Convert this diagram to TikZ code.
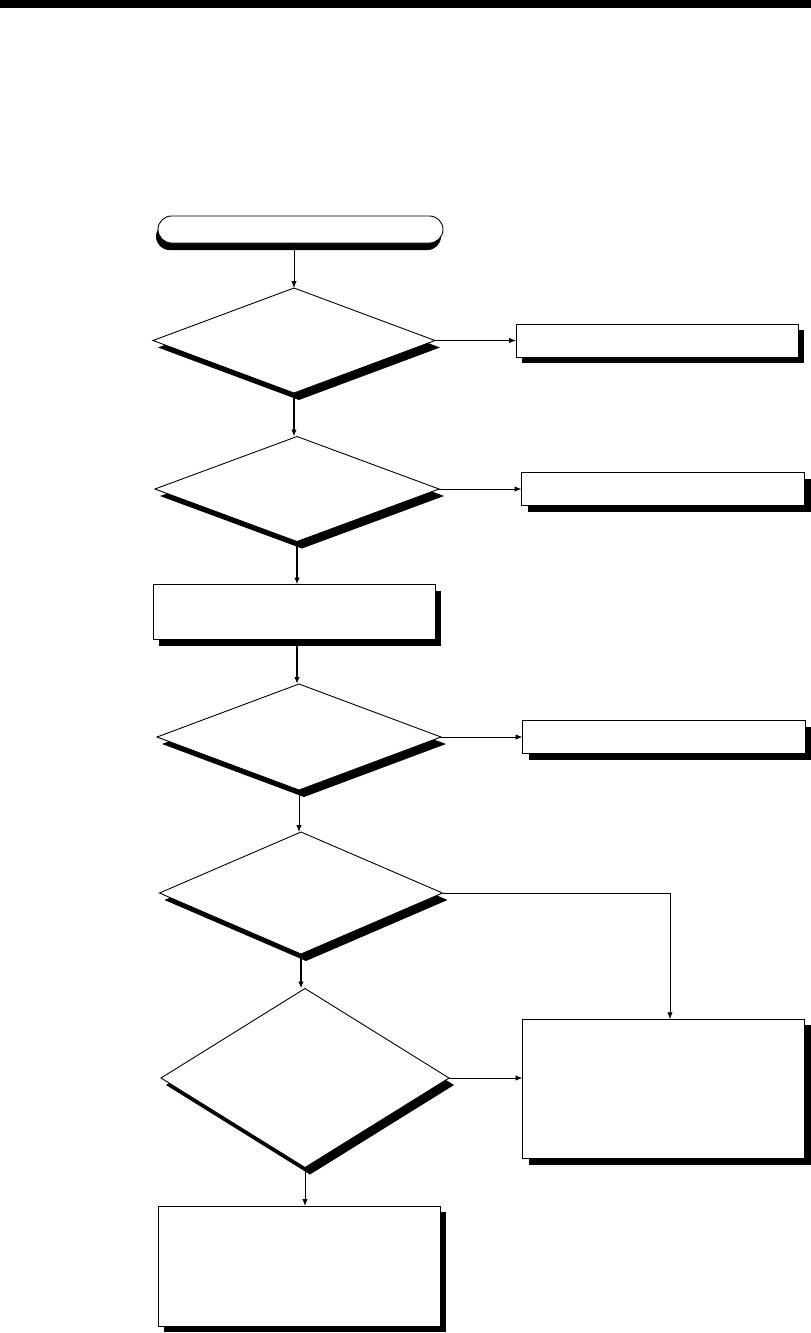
\documentclass[tikz,border=0pt]{standalone}
\usetikzlibrary{shapes.geometric,shadows,arrows.meta}
\begin{document}
\begin{tikzpicture}[x=1pt,y=-1pt,
  base/.style={draw=black, fill=white, line width=0.9pt, inner sep=0pt, outer sep=0pt},
  dshadow/.style={general shadow={fill=black, draw=none, shadow xshift=5pt, shadow yshift=-7pt}},
  bshadow/.style={general shadow={fill=black, draw=none, shadow xshift=6pt, shadow yshift=-6pt}},
  dec/.style={base, diamond, dshadow},
  box/.style={base, rectangle, bshadow},
  term/.style={base, rectangle, rounded corners=13.5pt,
    general shadow={fill=black, draw=none, shadow xshift=-2pt, shadow yshift=-7pt}},
  lnA/.style={line width=0.9pt, -{Latex[length=7pt,width=5.5pt]}},
  lnB/.style={line width=1.8pt, -{Latex[length=7pt,width=5.5pt]}},
  lnC/.style={line width=0.9pt}
]
\useasboundingbox (0,0) rectangle (811,1333);
\fill[black] (0,0) rectangle (811,8);

\node[term, minimum width=285pt, minimum height=27pt] (T) at (300.5,229.5) {};
\node[dec, minimum width=282pt, minimum height=105pt] (D1) at (294,340.5) {};
\node[box, minimum width=282pt, minimum height=33pt] (B1) at (657,340.5) {};
\node[dec, minimum width=284pt, minimum height=105pt] (D2) at (297,489) {};
\node[box, minimum width=283pt, minimum height=33pt] (B2) at (663,489) {};
\node[box, minimum width=282pt, minimum height=55pt] (P) at (294,612) {};
\node[dec, minimum width=284pt, minimum height=106pt] (D3) at (299,737) {};
\node[box, minimum width=283pt, minimum height=33pt] (B3) at (664,737) {};
\node[dec, minimum width=283pt, minimum height=122pt] (D4) at (301,893) {};
\node[dec, minimum width=288pt, minimum height=179pt] (D5) at (305,1078) {};
\node[box, minimum width=282pt, minimum height=139.5pt] (B5) at (663.5,1089) {};
\node[box, minimum width=282pt, minimum height=120pt] (B6) at (299,1266) {};
\coordinate (K) at (670,893);

\draw[lnA] (T.south -| D1.north) -- (D1.north);
\draw[lnA] (D1.east) -- (D1.east -| B1.west);
\draw[lnB] (D1.south) -- (D1.south |- D2.north);
\draw[lnA] (D2.east) -- (D2.east -| B2.west);
\draw[lnB] (D2.south) -- (D2.south |- P.north);
\draw[lnB] (D2.south |- P.south) -- (D2.south |- D3.north);
\draw[lnA] (D3.east) -- (D3.east -| B3.west);
\draw[lnA] (D3.south) -- (D3.south |- D4.north);
\draw[lnB] (D4.south) -- (D4.south |- D5.north);
\draw[lnC] (D4.east) -- (K);
\draw[lnA] (K) -- (K |- B5.north);
\draw[lnA] (D5.east) -- (D5.east -| B5.west);
\draw[lnA] (D5.south) -- (D5.south |- B6.north);
\end{tikzpicture}
\end{document}
